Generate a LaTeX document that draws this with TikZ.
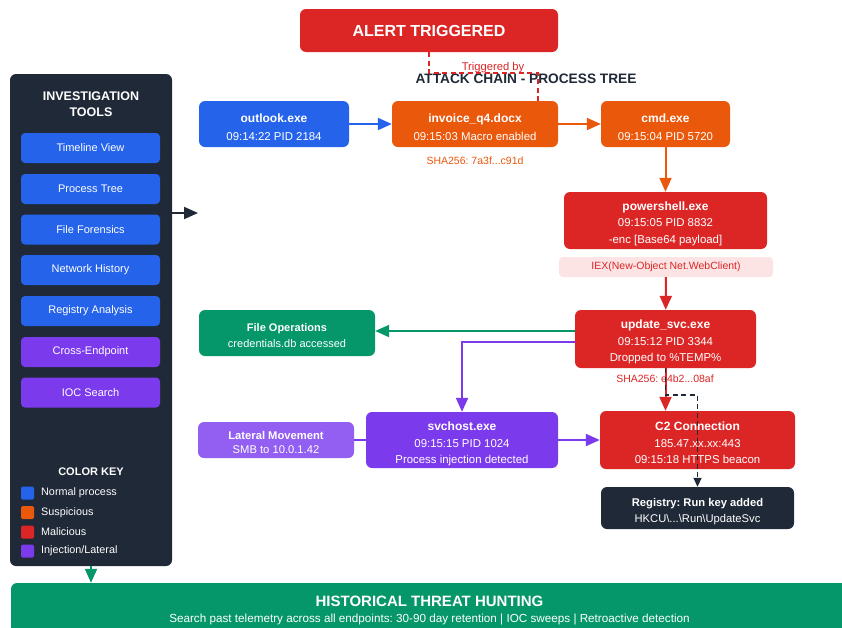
\documentclass[tikz,border=0pt]{standalone}
\usepackage{fontspec}
\setmainfont{Liberation Sans}
\usetikzlibrary{arrows.meta,calc}
\definecolor{cblue}{HTML}{2563EB}
\definecolor{corange}{HTML}{EA580C}
\definecolor{cred}{HTML}{DC2626}
\definecolor{cpurple}{HTML}{7C3AED}
\definecolor{clav}{HTML}{935FF2}
\definecolor{cgreen}{HTML}{059669}
\definecolor{cdark}{HTML}{1F2937}
\definecolor{cpink}{HTML}{FCE4E4}
% bold first line of a process box, with a strut that lowers the text block a little
\newcommand{\ttl}[2][12]{\rule{0pt}{15pt}{\bfseries\fontsize{#1}{17}\selectfont #2}}
\newcommand{\ttlsm}[2][11]{\rule{0pt}{12.5pt}{\bfseries\fontsize{#1}{17}\selectfont #2}}
\begin{document}
\frenchspacing
\begin{tikzpicture}[x=1pt,y=-1pt,
  box/.style={rectangle, rounded corners=6pt, text=white, align=center, inner sep=0pt},
  proc/.style={box, font=\fontsize{11.4}{16.5}\selectfont},
  tool/.style={box, rounded corners=4pt, minimum width=139pt, minimum height=30pt, font=\fontsize{11}{13}\selectfont},
  keysq/.style={rectangle, rounded corners=1.5pt, minimum size=13pt, inner sep=0pt},
  keytxt/.style={anchor=west, text=white, font=\fontsize{10.8}{12}\selectfont, inner sep=0pt},
  arr/.style={line width=2pt, -{Triangle[length=14pt,width=12pt]}},
  dasharr/.style={line width=1.6pt, dash pattern=on 5pt off 3.5pt, -{Triangle[length=9pt,width=8pt]}}]
\useasboundingbox (0,0) rectangle (842,627);
\fill[white] (0,0) rectangle (842,627);

% alert banner and chain title
\node[box, fill=cred, minimum width=258pt, minimum height=43pt, font=\bfseries\fontsize{16}{19}\selectfont] (alert) at (429,30.5) {ALERT TRIGGERED};
\node[text=cdark, font=\bfseries\fontsize{13.7}{15}\selectfont] (title) at (526,79) {ATTACK CHAIN - PROCESS TREE};

% process chain
\node[proc, fill=cblue, minimum width=150pt, minimum height=46pt, font=\fontsize{11.4}{18}\selectfont] (outlook) at (274,124) {\ttl{outlook.exe}\\09:14:22 PID 2184};
\node[proc, fill=corange, minimum width=166pt, minimum height=46pt, font=\fontsize{11.4}{18}\selectfont] (invoice) at (475,124) {\ttl{invoice\_q4.docx}\\09:15:03 Macro enabled};
\node[proc, fill=corange, minimum width=129pt, minimum height=46pt, font=\fontsize{11.4}{18}\selectfont] (cmd) at (665.5,124) {\ttl{cmd.exe}\\09:15:04 PID 5720};
\node[text=corange, font=\fontsize{10.5}{12}\selectfont] (sha1) at (475,161) {SHA256: 7a3f...c91d};

\node[proc, fill=cred, minimum width=203pt, minimum height=57pt] (ps) at (665.5,220.5) {\ttl{powershell.exe}\\09:15:05 PID 8832\\-enc [Base64 payload]};
\node[box, fill=cpink, text=cred, rounded corners=4pt, minimum width=214pt, minimum height=20pt, font=\fontsize{10.5}{12}\selectfont] (iex) at (666,267) {IEX(New-Object Net.WebClient)};

\node[proc, fill=cred, minimum width=181pt, minimum height=58pt] (upd) at (665.5,339) {\ttl{update\_svc.exe}\\09:15:12 PID 3344\\Dropped to \%TEMP\%};
\node[text=cred, font=\fontsize{10.5}{12}\selectfont] (sha2) at (665,379) {SHA256: e4b2...08af};

\node[proc, fill=cgreen, minimum width=176pt, minimum height=46pt, font=\fontsize{11}{16}\selectfont] (fileops) at (287,333) {\ttlsm{File Operations}\\credentials.db accessed};

\node[proc, fill=cpurple, minimum width=192pt, minimum height=56pt] (svc) at (462,440) {\rule{0pt}{17pt}\ttl{svchost.exe}\\09:15:15 PID 1024\\Process injection detected};
\node[proc, fill=clav, minimum width=156pt, minimum height=36pt, font=\fontsize{11.2}{14}\selectfont] (lat) at (276,440) {\ttlsm[11.2]{Lateral Movement}\\SMB to 10.0.1.42};

\node[proc, fill=cred, minimum width=195pt, minimum height=58pt] (c2) at (697.5,440) {\ttl{C2 Connection}\\185.47.xx.xx:443\\09:15:18 HTTPS beacon};
\node[proc, fill=cdark, minimum width=193pt, minimum height=42pt, font=\fontsize{11.2}{16}\selectfont] (reg) at (697.5,508) {\ttl[11.2]{Registry: Run key added}\\HKCU\textbackslash...\textbackslash Run\textbackslash UpdateSvc};

% investigation tools panel
\node[box, fill=cdark, minimum width=162pt, minimum height=492pt] (panel) at (91,320) {};
\node[text=white, align=center, font=\bfseries\fontsize{12.5}{16}\selectfont] (ptitle) at (91,104) {INVESTIGATION\\TOOLS};
\node[tool, fill=cblue] (t1) at (90.5,148) {Timeline View};
\node[tool, fill=cblue] (t2) at (90.5,189) {Process Tree};
\node[tool, fill=cblue] (t3) at (90.5,229.5) {File Forensics};
\node[tool, fill=cblue] (t4) at (90.5,270) {Network History};
\node[tool, fill=cblue] (t5) at (90.5,311) {Registry Analysis};
\node[tool, fill=cpurple] (t6) at (90.5,352) {Cross-Endpoint};
\node[tool, fill=cpurple] (t7) at (90.5,392.5) {IOC Search};

% colour key
\node[text=white, font=\bfseries\fontsize{11}{13}\selectfont] (keytitle) at (91,472) {COLOR KEY};
\node[keysq, fill=cblue] (k1) at (27.5,493) {};
\node[keysq, fill=corange] (k2) at (27.5,512.5) {};
\node[keysq, fill=cred] (k3) at (27.5,532) {};
\node[keysq, fill=cpurple] (k4) at (27.5,551) {};
\node[keytxt] (k1t) at (41,493) {Normal process};
\node[keytxt] (k2t) at (41,512.5) {Suspicious};
\node[keytxt] (k3t) at (41,532) {Malicious};
\node[keytxt] (k4t) at (41,551) {Injection/Lateral};

% historical hunting banner
\node[box, fill=cgreen, minimum width=837pt, minimum height=62pt] (hunt) at (429.5,614) {};
\node[text=white, font=\bfseries\fontsize{15}{17}\selectfont] (hunttitle) at (429.5,601) {HISTORICAL THREAT HUNTING};
\node[text=white, font=\fontsize{11.7}{13}\selectfont] (huntsub) at (429.5,619) {Search past telemetry across all endpoints: 30-90 day retention | IOC sweeps | Retroactive detection};

% connectors
\draw[arr, cblue] (outlook) -- (invoice);
\draw[arr, corange] (invoice) -- (cmd);
\draw[arr, corange] (cmd) -- (ps);
\draw[arr, cred] (iex) -- (upd);

\coordinate (g0) at ($(upd.west)+(0,-8)$);
\draw[arr, cgreen] (g0) -- (g0 -| fileops.east);
\coordinate (p0) at ($(upd.west)+(0,3)$);
\draw[arr, cpurple] (p0) -| (svc.north);
\draw[arr, cpurple] (svc) -- (c2);
\draw[line width=2pt, cpurple] (svc.west) -- (lat.east);

\draw[arr, cred] (upd.south) -- (upd.south |- c2.north);
\draw[dasharr, cdark] (upd.south) -- ++(0,27) -| (reg.north);

\coordinate (trg) at ($(invoice.north)+(63,0)$);
\draw[cred, line width=1.6pt, dash pattern=on 5pt off 3.5pt] (alert.south) -- ++(0,21) -| (trg);
\node[text=cred, font=\fontsize{11.2}{12}\selectfont] (trglbl) at (493,68) {Triggered by};

\coordinate (pa) at (198,213);
\draw[arr, cdark] (panel.east |- pa) -- (pa);
\draw[arr, cgreen] (panel.south) -- (panel.south |- hunt.north);
\end{tikzpicture}
\end{document}
